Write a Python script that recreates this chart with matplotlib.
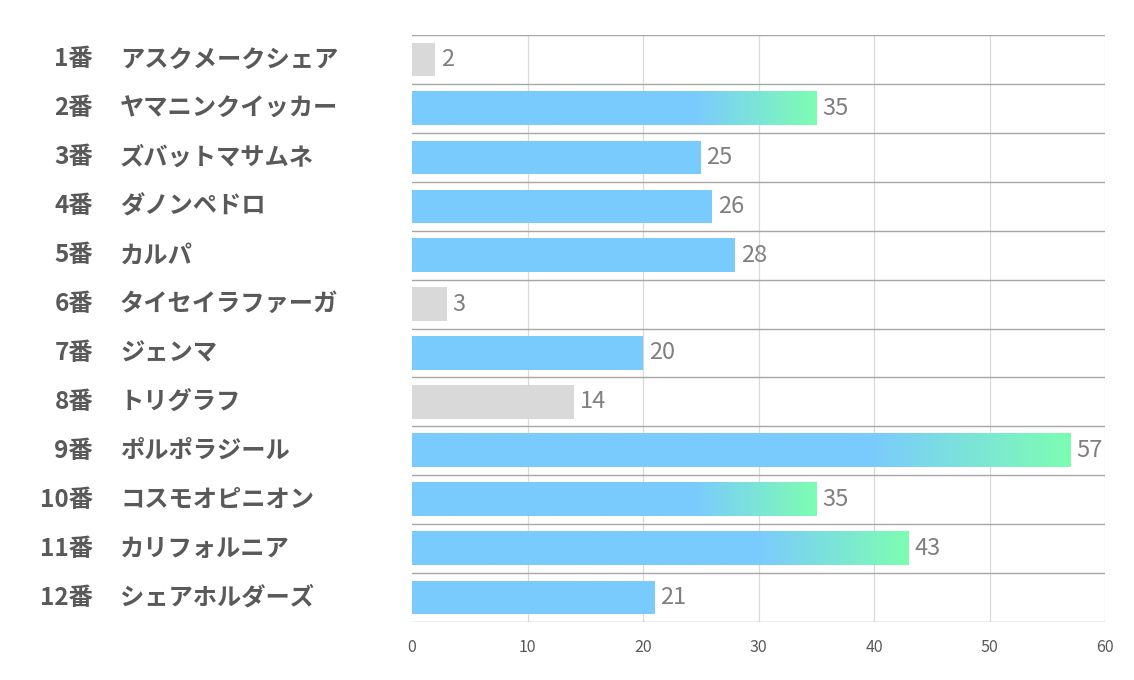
import matplotlib

matplotlib.use("Agg")
import matplotlib.pyplot as plt
import matplotlib.transforms as mtransforms
import numpy as np
from matplotlib.colors import LinearSegmentedColormap

plt.rcParams["font.family"] = ["Noto Sans CJK JP", "DejaVu Sans"]

numbers = ["1番", "2番", "3番", "4番", "5番", "6番", "7番", "8番", "9番", "10番", "11番", "12番"]
names = [
    "アスクメークシェア", "ヤマニンクイッカー", "ズバットマサムネ", "ダノンペドロ",
    "カルパ", "タイセイラファーガ", "ジェンマ", "トリグラフ",
    "ポルポラジール", "コスモオピニオン", "カリフォルニア", "シェアホルダーズ",
]
values = [2, 35, 25, 26, 28, 3, 20, 14, 57, 35, 43, 21]
# bar style per horse: grey = low, blue = normal, grad = blue->green highlight
styles = ["grey", "grad", "blue", "blue", "blue", "grey", "blue", "grey", "grad", "grad", "grad", "blue"]
x_ticks = [0, 10, 20, 30, 40, 50, 60]

BLUE = "#7ACBFD"
GREEN = "#7DFDB2"
GREY = "#D9D9D9"
LABEL = "#595959"
VALUE = "#7F7F7F"

fig = plt.figure(figsize=(11.34, 6.8), dpi=100)
ax = fig.add_axes([412 / 1134, 1 - 622 / 680, (1105 - 412) / 1134, (622 - 35) / 680])

n = len(values)
ys = np.arange(n)
h = 0.68
grad_cmap = LinearSegmentedColormap.from_list(
    "bg", [(0.0, BLUE), (0.7, BLUE), (1.0, GREEN)]
)
grad = np.linspace(0, 1, 256).reshape(1, -1)

for y, v, st in zip(ys, values, styles):
    if st == "grad":
        ax.imshow(grad, cmap=grad_cmap, aspect="auto", interpolation="bicubic",
                  extent=(0, v, y + h / 2, y - h / 2), zorder=2)
    else:
        ax.barh(y, v, height=h, color=GREY if st == "grey" else BLUE,
                edgecolor="none", zorder=2)
    ax.text(v + 0.5, y, str(v), ha="left", va="center", fontsize=17,
            color=VALUE, zorder=3)

ax.set_xlim(0, 60)
ax.set_ylim(n - 0.5, -0.5)

for xv in x_ticks[1:]:
    ax.axvline(xv, color="#D9D9D9", lw=0.9, zorder=1)
for b in np.arange(n + 1) - 0.5:
    ax.axhline(b, color="#A6A6A6", lw=1.0, zorder=1)

for s in ax.spines.values():
    s.set_visible(False)
ax.set_yticks([])
ax.set_xticks(x_ticks)
ax.tick_params(axis="x", length=0, pad=12, labelsize=11.5, labelcolor=LABEL)

trans = mtransforms.blended_transform_factory(fig.transFigure, ax.transData)
for y, num, name in zip(ys, numbers, names):
    ax.text(93 / 1134, y, num, transform=trans, ha="right", va="center",
            fontsize=17.5, fontweight="bold", color=LABEL)
    ax.text(120 / 1134, y, name, transform=trans, ha="left", va="center",
            fontsize=17.5, fontweight="bold", color=LABEL)

fig.savefig("out.png", dpi=100)
